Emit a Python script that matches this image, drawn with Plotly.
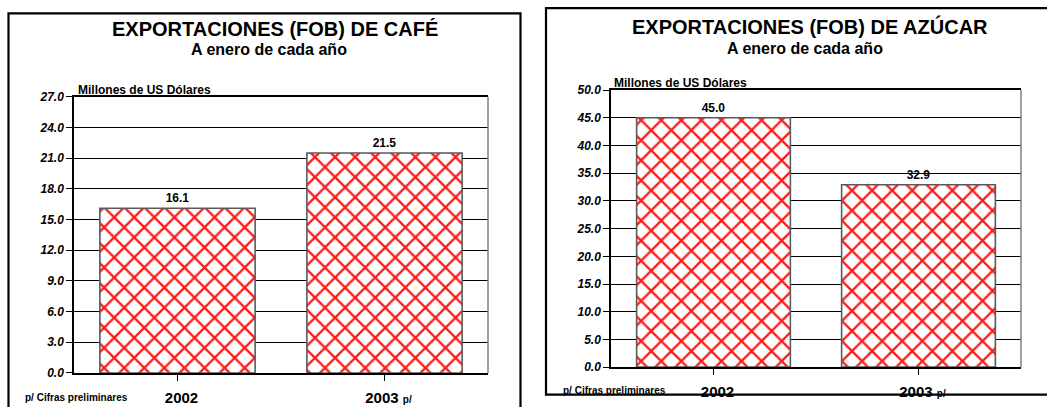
import plotly.graph_objects as go

# ---- data ----
years = ["2002", "2003"]
year_labels = ["2002", "2003 <span style='font-size:10px'>p/</span>"]
cafe_values = [16.1, 21.5]
azucar_values = [45.0, 32.9]
cafe_ticks = [0.0, 3.0, 6.0, 9.0, 12.0, 15.0, 18.0, 21.0, 24.0, 27.0]
azucar_ticks = [0.0, 5.0, 10.0, 15.0, 20.0, 25.0, 30.0, 35.0, 40.0, 45.0, 50.0]

cafe_title = "EXPORTACIONES (FOB) DE CAFÉ"
azucar_title = "EXPORTACIONES (FOB) DE AZÚCAR"
subtitle = "A enero de cada año"
units = "Millones de US Dólares"
footnote = "p/ Cifras preliminares"

W, H = 1047, 407
FONT = "Liberation Sans, Arial, sans-serif"


def fx(px):
    return px / W


def fy(py):
    return 1 - py / H


fig = go.Figure()

bar_style = dict(
    marker=dict(
        color="white",
        line=dict(color="#5a5a5a", width=1.6),
        pattern=dict(shape="x", fgcolor="#ff1a1a", bgcolor="white",
                     size=14.2, solidity=0.3, fillmode="replace"),
    ),
    width=0.75,
    texttemplate="%{y:.1f}",
    textposition="outside",
    textfont=dict(family=FONT, size=12, color="black", weight="bold"),
    cliponaxis=False,
    showlegend=False,
)

fig.add_trace(go.Bar(x=years, y=cafe_values, xaxis="x", yaxis="y", **bar_style))
fig.add_trace(go.Bar(x=years, y=azucar_values, xaxis="x2", yaxis="y2", **bar_style))

xcommon = dict(
    type="category",
    tickvals=years,
    ticktext=year_labels,
    showline=True, linecolor="black", linewidth=1.5, mirror=True,
    ticks="outside", ticklen=6, tickcolor="black",
    tickfont=dict(family=FONT, size=15, color="black", weight="bold"),
    ticklabelshift=4,
    ticklabelstandoff=4,
    showgrid=False,
    fixedrange=True,
)
ycommon = dict(
    showline=True, linecolor="black", linewidth=1.5,
    ticks="outside", ticklen=6, tickcolor="black",
    tickfont=dict(family=FONT, size=12, color="black", weight="bold", style="italic"),
    showgrid=True, gridcolor="black", gridwidth=1,
    zeroline=False,
    fixedrange=True,
)


def tick_text(vals):
    return ["<i><b>%.1f</b></i>" % v for v in vals]


fig.update_layout(
    width=W, height=H,
    margin=dict(l=0, r=0, t=0, b=0),
    paper_bgcolor="white", plot_bgcolor="white",
    xaxis=dict(domain=[fx(74), fx(488)], anchor="y", **xcommon),
    yaxis=dict(domain=[fy(379), fy(93)], anchor="x", range=[0, 27],
               tickvals=cafe_ticks, ticktext=tick_text(cafe_ticks), **ycommon),
    xaxis2=dict(domain=[fx(611), fx(1021)], anchor="y2", **xcommon),
    yaxis2=dict(domain=[fy(373), fy(86)], anchor="x2", range=[0, 50],
                tickvals=azucar_ticks, ticktext=tick_text(azucar_ticks), **ycommon),
)

# panel frames and grey right edge of each plot area
shapes = [
    dict(type="rect", xref="paper", yref="paper", x0=fx(8.5), x1=fx(520.5),
         y0=fy(420), y1=fy(6.5), line=dict(color="black", width=2.2)),
    dict(type="rect", xref="paper", yref="paper", x0=fx(546), x1=fx(1060),
         y0=fy(401.5), y1=fy(1.2), line=dict(color="black", width=2.2)),
    dict(type="line", xref="x domain", yref="y domain", x0=1, x1=1, y0=0, y1=1,
         line=dict(color="#808080", width=1.5)),
    dict(type="line", xref="x2 domain", yref="y2 domain", x0=1, x1=1, y0=0, y1=1,
         line=dict(color="#808080", width=1.5)),
]


# footnotes sit on the bottom edge, so they are drawn as shape labels
def note(x, y, s):
    shapes.append(dict(
        type="rect", xref="paper", yref="paper",
        x0=fx(x), x1=fx(x + 150), y0=fy(y + 5), y1=fy(y - 5),
        line=dict(width=0), fillcolor="rgba(0,0,0,0)",
        label=dict(text="<b>%s</b>" % s, textposition="middle left", padding=0,
                   font=dict(family=FONT, size=10, color="black")),
    ))


note(22, 403, footnote)
note(560, 396.5, footnote)

ann = []


def text(x, y, s, size, anchor="center"):
    ann.append(dict(x=fx(x), y=fy(y), xref="paper", yref="paper", text=s,
                    showarrow=False, xanchor=anchor, yanchor="middle",
                    font=dict(family=FONT, size=size, color="black", weight="bold")))


# left panel texts
text(275, 23, cafe_title, 20)
text(268.5, 43.5, subtitle, 16)
text(76, 85.5, units, 12, "left")
# right panel texts
text(810, 20, azucar_title, 20)
text(804.5, 43, subtitle, 16)
text(612, 78.5, units, 12, "left")

fig.update_layout(shapes=shapes, annotations=ann)

fig.write_html("out.html")
